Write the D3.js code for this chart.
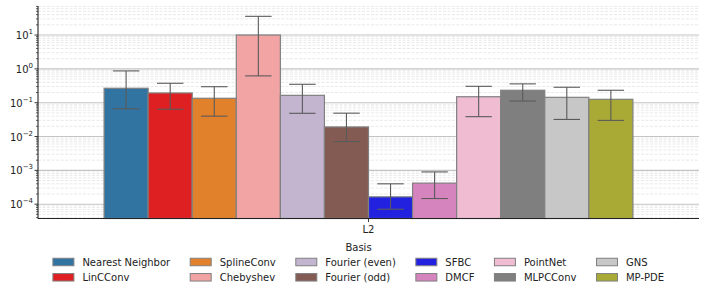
<!DOCTYPE html>
<html lang="en">
<head>
<meta charset="UTF-8">
<script src="https://d3js.org/d3.v7.min.js"></script>
<style>
  body { margin: 0; background: #fff; }
  text { font-family: "DejaVu Sans", sans-serif; fill: #222; }
</style>
</head>
<body>
<svg id="svg1" width="706" height="294"></svg>
<script>
// data
const groups = ["L2"];
const methods = ["Nearest Neighbor", "LinCConv", "SplineConv", "Chebyshev", "Fourier (even)", "Fourier (odd)",
                 "SFBC", "DMCF", "PointNet", "MLPCConv", "GNS", "MP-PDE"];
const values  = [0.267, 0.194, 0.135, 10.0, 0.165, 0.0192, 1.65e-4, 4.2e-4, 0.150, 0.233, 0.144, 0.126];
const errLow  = [0.066, 0.064, 0.040, 0.62, 0.0486, 0.0071, 7.1e-5, 1.47e-4, 0.0386, 0.112, 0.032, 0.030];
const errHigh = [0.87, 0.375, 0.297, 35.7, 0.35, 0.049, 4.0e-4, 9.0e-4, 0.305, 0.36, 0.286, 0.233];
const colors  = ["#3274a1", "#df2022", "#e1812c", "#f1a4a3", "#c3b5d0", "#845b53",
                 "#2121df", "#d684bd", "#efbcd2", "#7f7f7f", "#c7c7c7", "#a9aa35"];
const majorTicks = [-4, -3, -2, -1, 0, 1];
const legendTitle = "Basis";

const svg = d3.select("#svg1");
const margin = {top: 6, left: 38, right: 7, bottom: 75.5};
const W = 706, H = 294;
const x0 = margin.left, x1 = W - margin.right;
const y0 = H - margin.bottom, y1 = margin.top;

const yScale = d3.scaleLog().domain([Math.pow(10, -4.423), Math.pow(10, 1.858)]).range([y0, y1]);
const groupScale = d3.scaleBand().domain(groups).range([x0, x1]).paddingInner(0.2).paddingOuter(0.1);
const barScale = d3.scaleBand().domain(methods).range([0, groupScale.bandwidth()]);

// grid
const grid = svg.append("g");
const minorTicks = yScale.ticks().filter(t => {
  const m = t / Math.pow(10, Math.floor(Math.log10(t) + 1e-9));
  return Math.abs(m - 1) > 1e-6;
});
grid.selectAll("line.minor").data(minorTicks).join("line")
  .attr("x1", x0).attr("x2", x1)
  .attr("y1", d => yScale(d)).attr("y2", d => yScale(d))
  .attr("stroke", "#e3e3e3").attr("stroke-width", 0.8).attr("stroke-dasharray", "3,1.5");
grid.selectAll("line.major").data(majorTicks).join("line")
  .attr("x1", x0).attr("x2", x1)
  .attr("y1", d => yScale(Math.pow(10, d))).attr("y2", d => yScale(Math.pow(10, d)))
  .attr("stroke", "#c4c4c4").attr("stroke-width", 1.1);

// bars
const bars = svg.append("g");
methods.forEach((m, i) => {
  const bx = groupScale("L2") + barScale(m);
  const bw = barScale.bandwidth();
  bars.append("rect")
    .attr("x", bx).attr("width", bw)
    .attr("y", yScale(values[i])).attr("height", y0 - yScale(values[i]))
    .attr("fill", colors[i]).attr("stroke", "#808080").attr("stroke-width", 1.2);
});

// error bars
const errs = svg.append("g").attr("stroke", "#5a5a5a").attr("stroke-width", 1.1);
methods.forEach((m, i) => {
  const cx = groupScale("L2") + barScale(m) + barScale.bandwidth() / 2;
  const cap = barScale.bandwidth() * 0.3;
  errs.append("line").attr("x1", cx).attr("x2", cx)
    .attr("y1", yScale(errLow[i])).attr("y2", yScale(errHigh[i]));
  [errLow[i], errHigh[i]].forEach(v => {
    errs.append("line").attr("x1", cx - cap).attr("x2", cx + cap)
      .attr("y1", yScale(v)).attr("y2", yScale(v));
  });
});

// y axis
const yAxisG = svg.append("g");
yAxisG.append("line").attr("x1", x0).attr("x2", x0).attr("y1", y1).attr("y2", y0)
  .attr("stroke", "#222").attr("stroke-width", 1.1);
yAxisG.selectAll("line.minort").data(minorTicks).join("line")
  .attr("x1", x0 - 2).attr("x2", x0)
  .attr("y1", d => yScale(d)).attr("y2", d => yScale(d))
  .attr("stroke", "#222").attr("stroke-width", 0.7);
yAxisG.selectAll("line.majort").data(majorTicks).join("line")
  .attr("x1", x0 - 3.5).attr("x2", x0)
  .attr("y1", d => yScale(Math.pow(10, d))).attr("y2", d => yScale(Math.pow(10, d)))
  .attr("stroke", "#222").attr("stroke-width", 0.9);
majorTicks.forEach(e => {
  const t = yAxisG.append("text")
    .attr("x", x0 - 5).attr("y", yScale(Math.pow(10, e)) + 4)
    .attr("text-anchor", "end").attr("font-size", 10);
  t.append("tspan").text("10");
  t.append("tspan").attr("dy", -5).attr("font-size", 7).text(e < 0 ? "\u2212" + (-e) : String(e));
});

// x axis
const xAxisG = svg.append("g");
xAxisG.append("line").attr("x1", x0).attr("x2", x1).attr("y1", y0).attr("y2", y0)
  .attr("stroke", "#222").attr("stroke-width", 1.1);
groups.forEach(g => {
  const gx = groupScale(g) + groupScale.bandwidth() / 2;
  xAxisG.append("line").attr("x1", gx).attr("x2", gx).attr("y1", y0).attr("y2", y0 + 3.5)
    .attr("stroke", "#222").attr("stroke-width", 0.9);
  xAxisG.append("text").attr("x", gx).attr("y", y0 + 14.5)
    .attr("text-anchor", "middle").attr("font-size", 10).text(g);
});

// legend (2 rows, column-major)
const legend = svg.append("g");
const rows = 2, patchW = 21, patchH = 7.5, textGap = 8.5, colGap = 20;
const rowY = [262, 277.3];
const nCols = Math.ceil(methods.length / rows);
// measure text widths
const meas = svg.append("text").attr("font-size", 10);
const widths = methods.map(m => { meas.text(m); return meas.node().getComputedTextLength(); });
meas.remove();
let colX = [];
let cx = 0;
for (let c = 0; c < nCols; c++) {
  colX.push(cx);
  const w = Math.max(...methods.slice(c * rows, c * rows + rows).map((m, k) => widths[c * rows + k]));
  cx += patchW + textGap + w + colGap;
}
const totalW = cx - colGap;
const legendX = (x0 + x1) / 2 - totalW / 2 - 10;
methods.forEach((m, i) => {
  const c = Math.floor(i / rows), r = i % rows;
  const lx = legendX + colX[c];
  legend.append("rect")
    .attr("x", lx).attr("y", rowY[r] - patchH / 2).attr("width", patchW).attr("height", patchH)
    .attr("fill", colors[i]).attr("stroke", "#808080").attr("stroke-width", 1);
  legend.append("text").attr("x", lx + patchW + textGap).attr("y", rowY[r] + 3.6)
    .attr("font-size", 10).text(m);
});
legend.append("text").attr("x", legendX + totalW / 2).attr("y", 250.5)
  .attr("text-anchor", "middle").attr("font-size", 10).text(legendTitle);
</script>
</body>
</html>
